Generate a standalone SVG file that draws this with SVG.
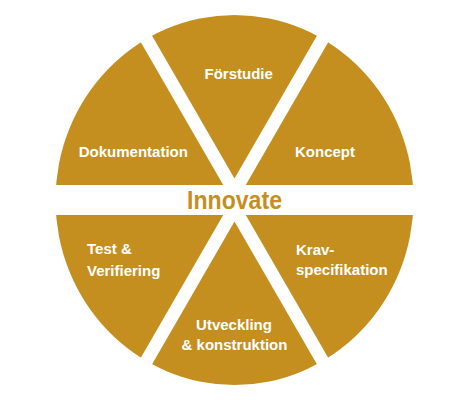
<svg xmlns="http://www.w3.org/2000/svg" width="470" height="400" viewBox="0 0 470 400">
  <style>
    .seg { fill: #C58F1F; }
    .lbl { font-family: "Liberation Sans", Arial, sans-serif; font-weight: bold; font-size: 15px; fill: #FFFFFF; }
    .title { font-family: "Liberation Sans", Arial, sans-serif; font-weight: bold; font-size: 26px; fill: #C58F1F; }
  </style>
  <defs>
    <clipPath id="disc">
      <ellipse cx="234.5" cy="200" rx="179" ry="185"/>
    </clipPath>
  </defs>
  <rect width="470" height="400" fill="#FFFFFF"/>
  <g id="segments" clip-path="url(#disc)">
    <g id="forstudie">
      <polygon class="seg" points="234.5,178.5 109.5,-38 359.5,-38"/>
    </g>
    <g id="koncept">
      <polygon class="seg" points="245.76,185 374.5,-38 470,-38 470,185"/>
    </g>
    <g id="kravspecifikation">
      <polygon class="seg" points="245.76,215 374.5,438 470,438 470,215"/>
    </g>
    <g id="utveckling">
      <polygon class="seg" points="234.5,221.5 109.5,438 359.5,438"/>
    </g>
    <g id="test">
      <polygon class="seg" points="223.24,215 94.5,438 0,438 0,215"/>
    </g>
    <g id="dokumentation">
      <polygon class="seg" points="223.24,185 94.5,-38 0,-38 0,185"/>
    </g>
  </g>
  <g id="labels">
    <text class="lbl" x="238.7" y="79.3" text-anchor="middle">Förstudie</text>
    <text class="lbl" x="325" y="157.3" text-anchor="middle">Koncept</text>
    <text class="lbl" x="296" y="254.5">Krav-</text>
    <text class="lbl" x="296" y="275">specifikation</text>
    <text class="lbl" x="234" y="330" text-anchor="middle">Utveckling</text>
    <text class="lbl" x="234.5" y="350" text-anchor="middle">&amp; konstruktion</text>
    <text class="lbl" x="87" y="254">Test &amp;</text>
    <text class="lbl" x="87" y="276">Verifiering</text>
    <text class="lbl" x="133.3" y="157.3" text-anchor="middle">Dokumentation</text>
  </g>
  <g id="center">
    <text class="title" x="234.5" y="209" text-anchor="middle" textLength="95" lengthAdjust="spacingAndGlyphs">Innovate</text>
  </g>
</svg>
